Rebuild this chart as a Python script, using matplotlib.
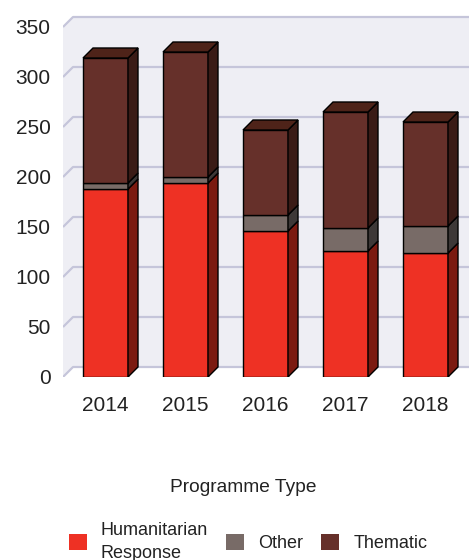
import matplotlib.pyplot as plt
from matplotlib.patches import Polygon, Patch

years = ['2014', '2015', '2016', '2017', '2018']
humanitarian = [188, 194, 146, 126, 124]
other = [6, 6, 16, 23, 27]
thematic = [125, 125, 85, 116, 104]

series_names = ['Humanitarian\nResponse', 'Other', 'Thematic']
front_cols = ['#ee3124', '#786b67', '#66302a']
side_cols = ['#7b1a10', '#3d3837', '#3a1b16']
top_col = '#4e2319'

plt.rcParams['font.family'] = ['Liberation Sans', 'DejaVu Sans']

W, H = 469, 560
fig = plt.figure(figsize=(W / 100, H / 100), dpi=100)
ax = fig.add_axes([63 / W, (H - 377) / H, (W - 63) / W, 365 / H])

# 80 px between bars, bars 45 px wide, 3d depth 10 px
x0, x1 = -42.5 / 80, (W - 105.5) / 80
ax.set_xlim(x0, x1)
ax.set_ylim(0, 365)
dx, dy = 10 / 80, 10
bw = 45 / 80

wall = '#eeeef4'
grid = '#c5c5da'
ax.add_patch(Polygon([(x0 + dx, dy), (x1, dy), (x1, 350 + dy), (x0 + dx, 350 + dy)],
                     closed=True, fc=wall, ec='none', zorder=0))
ax.add_patch(Polygon([(x0, 0), (x0 + dx, dy), (x0 + dx, 350 + dy), (x0, 350)],
                     closed=True, fc=wall, ec='none', zorder=0))
for v in range(0, 351, 50):
    ax.plot([x0, x0 + dx, x1], [v, v + dy, v + dy], color=grid, lw=1.6,
            zorder=1, solid_capstyle='butt')

xs = list(range(len(years)))
bottom = [0] * len(years)
for k, vals in enumerate([humanitarian, other, thematic]):
    ax.bar(xs, vals, width=bw, bottom=bottom, color=front_cols[k],
           edgecolor='black', linewidth=1, zorder=3)
    for i in xs:
        xr = i + bw / 2
        b, t = bottom[i], bottom[i] + vals[i]
        ax.add_patch(Polygon([(xr, b), (xr + dx, b + dy), (xr + dx, t + dy), (xr, t)],
                             closed=True, fc=side_cols[k], ec='black', lw=1, zorder=3))
    bottom = [bottom[i] + vals[i] for i in xs]

for i in xs:
    xl, xr, t = i - bw / 2, i + bw / 2, bottom[i]
    ax.add_patch(Polygon([(xl, t), (xl + dx, t + dy), (xr + dx, t + dy), (xr, t)],
                         closed=True, fc=top_col, ec='black', lw=1, zorder=3))

ax.patch.set_visible(False)
for s in ax.spines.values():
    s.set_visible(False)
ax.set_yticks(range(0, 351, 50))
ax.set_xticks(xs)
ax.set_xticklabels(years)
ax.tick_params(length=0, labelsize=15, colors='#222222')
ax.tick_params(axis='y', pad=9)
ax.tick_params(axis='x', pad=14)

fig.text(243 / W, 1 - 488 / H, 'Programme Type', ha='center', va='center',
         fontsize=13.8, color='#222222')
handles = [Patch(fc=c, ec='none') for c in front_cols]
leg = fig.legend(handles, series_names, loc='center', bbox_to_anchor=(248 / W, 1 - 542 / H),
                 ncol=3, frameon=False, fontsize=13, handlelength=1.0, handleheight=1.0,
                 handletextpad=0.78, columnspacing=1.0, labelcolor='#222222')
leg.get_texts()[0].set_linespacing(1.4)

fig.savefig('out.png', dpi=100)
